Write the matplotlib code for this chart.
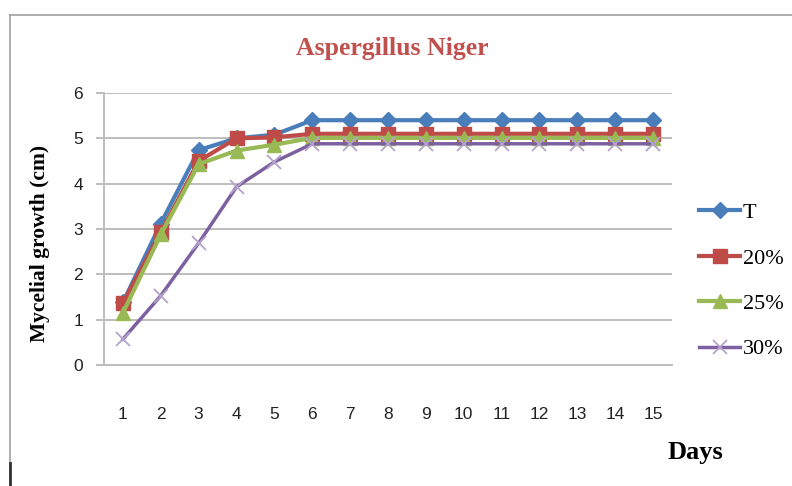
import matplotlib.pyplot as plt
from matplotlib.lines import Line2D

days = list(range(1, 16))
growth_T = [1.38, 3.12, 4.74, 5.0, 5.08, 5.4, 5.4, 5.4, 5.4, 5.4, 5.4, 5.4, 5.4, 5.4, 5.4]
growth_20 = [1.37, 2.93, 4.5, 5.0, 5.02, 5.1, 5.1, 5.1, 5.1, 5.1, 5.1, 5.1, 5.1, 5.1, 5.1]
growth_25 = [1.15, 2.88, 4.43, 4.73, 4.86, 5.01, 5.01, 5.01, 5.01, 5.01, 5.01, 5.01, 5.01, 5.01, 5.01]
growth_30 = [0.57, 1.53, 2.69, 3.93, 4.48, 4.88, 4.88, 4.88, 4.88, 4.88, 4.88, 4.88, 4.88, 4.88, 4.88]
series_labels = ["T", "20%", "25%", "30%"]

SERIF = ["Liberation Serif", "DejaVu Serif"]
NARROW = ["Liberation Sans Narrow", "Liberation Sans", "DejaVu Sans"]
GRID = "#BDBDBD"

fig = plt.figure(figsize=(7.92, 4.86), dpi=100)
ax = fig.add_axes([104 / 792, 1 - 365 / 486, 568 / 792, 272 / 486])

styles = [
    dict(color="#4A7EBB", marker="D", ms=8.5, mfc="#4A7EBB", mec="#4A7EBB", lw=3.0),
    dict(color="#BE4B48", marker="s", ms=10, mfc="#BE4B48", mec="#BE4B48", lw=3.0),
    dict(color="#98B954", marker="^", ms=10, mfc="#98B954", mec="#98B954", lw=3.0),
    dict(color="#7D60A0", marker="x", ms=10, mec="#B5A3CC", mew=1.3, lw=2.5),
]
for vals, lab, st in zip([growth_T, growth_20, growth_25, growth_30], series_labels, styles):
    ax.plot(days, vals, label=lab, zorder=3, **st)

ax.set_xlim(0.5, 15.5)
ax.set_ylim(0, 6)
ax.set_yticks(range(0, 7))
ax.set_xticks(days)
ax.yaxis.grid(True, color=GRID, lw=1.4)
ax.set_axisbelow(True)

for s in ["top", "right"]:
    ax.spines[s].set_visible(False)
ax.spines["left"].set_color(GRID)
ax.spines["left"].set_linewidth(1.4)
ax.spines["bottom"].set_color(GRID)
ax.spines["bottom"].set_linewidth(1.4)
ax.tick_params(axis="y", length=6, width=1.4, color=GRID, pad=9,
               labelsize=12.5, labelcolor="#222222")
ax.tick_params(axis="x", length=0, pad=30, labelsize=12.5, labelcolor="#222222")
for t in ax.get_xticklabels() + ax.get_yticklabels():
    t.set_family(NARROW)

fig.text(392 / 792, 1 - 48 / 486, "Aspergillus Niger", ha="center", va="center",
         color="#C0504D", fontsize=18.5, fontweight="bold", family=SERIF)
fig.text(40 / 792, 1 - 243 / 486, "Mycelial growth (cm)", rotation=90,
         ha="center", va="center", fontsize=15.5, fontweight="bold", family=SERIF)
fig.text(695 / 792, 1 - 452 / 486, "Days", ha="center", va="center",
         fontsize=19, fontweight="bold", family=SERIF)

leg = ax.legend(loc="center left", bbox_to_anchor=(699 / 792, 1 - 281 / 486),
                bbox_transform=fig.transFigure, frameon=False, numpoints=1,
                borderpad=0, borderaxespad=0, handlelength=1.85, handletextpad=0.12,
                labelspacing=1.12, prop={"family": SERIF, "size": 16})

# chart frame edges
fig.add_artist(Line2D([10 / 792, 1.0], [1 - 15 / 486] * 2, color="#A0A0A0", lw=1.2))
fig.add_artist(Line2D([10 / 792] * 2, [0, 1 - 15 / 486], color="#A0A0A0", lw=1.2))
fig.add_artist(Line2D([10 / 792] * 2, [0, 1 - 463 / 486], color="#333333", lw=2.0))

fig.savefig("out.png", dpi=100)
